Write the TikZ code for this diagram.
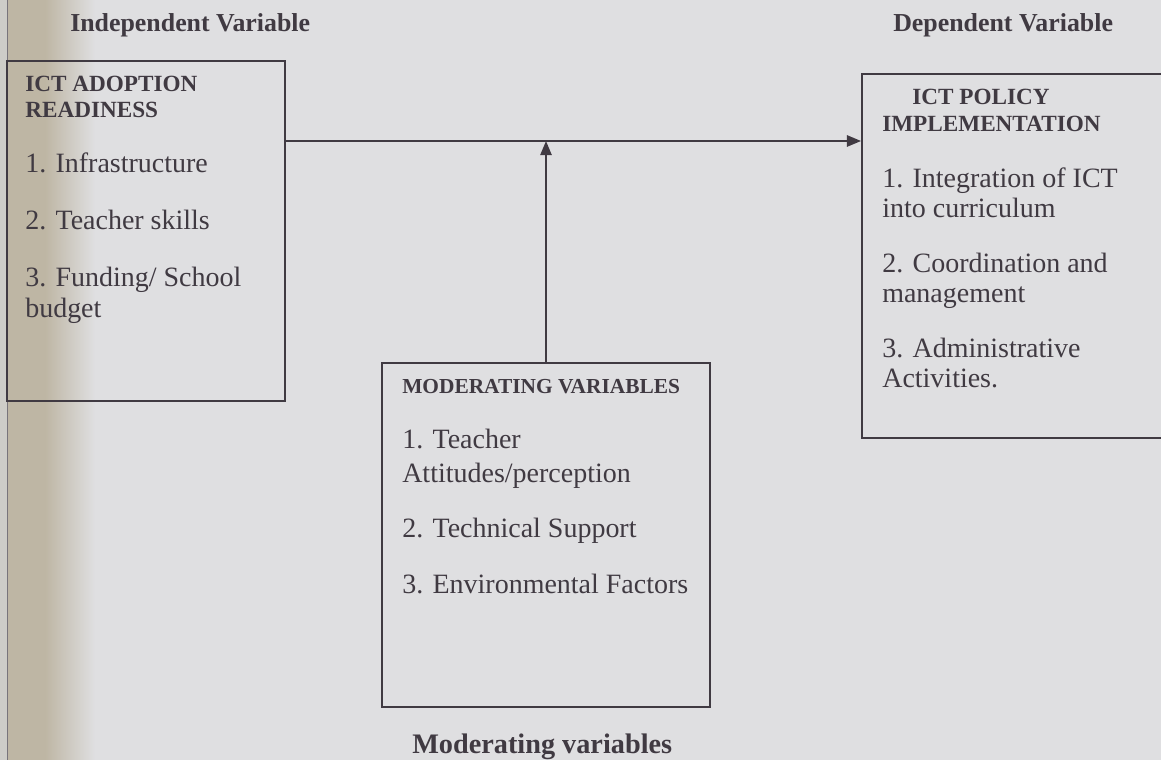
\documentclass[tikz,border=0pt]{standalone}
\usepackage{fontspec}
\setmainfont{Liberation Serif}
\usetikzlibrary{arrows.meta,positioning}

\definecolor{paper}{RGB}{223,223,225}
\definecolor{fold}{RGB}{190,182,164}
\definecolor{pageedge}{RGB}{206,205,200}
\definecolor{ink}{RGB}{64,58,66}

\begin{document}
\begin{tikzpicture}[x=0.025cm, y=-0.025cm,
    varbox/.style={draw=ink, line width=1.3pt, inner sep=0pt},
    boxhead/.style={anchor=base west, inner sep=0pt, text=ink, font=\bfseries\fontsize{16.5}{18}\selectfont},
    boxitem/.style={anchor=base west, inner sep=0pt, text=ink, font=\fontsize{19.9}{22}\selectfont},
    vartitle/.style={anchor=base west, inner sep=0pt, text=ink, font=\bfseries\fontsize{18.4}{20}\selectfont},
    link/.style={draw=ink, line width=1.3pt, -{Triangle[length=10pt, width=8pt]}}]

    % Page (photo of a printed page, fold shadow on the left)
    \useasboundingbox (0,0) rectangle (1161,760);
    \clip (0,0) rectangle (1161,760);
    \fill[paper] (0,0) rectangle (1161,760);
    \fill[pageedge] (0,0) rectangle (7,760);
    \fill[fold] (7,0) rectangle (45,760);
    \shade[left color=fold, right color=paper] (45,0) rectangle (95,760);
    \draw[ink!70, line width=0.6pt] (7,0) -- (7,760);

    % Column titles
    \node[vartitle] (indep) at (70,32) {Independent Variable};
    \node[vartitle] (dep) at (893,32) {Dependent Variable};

    % Boxes
    \node[varbox, minimum width=6.95cm, minimum height=8.5cm] (adoption) at (146,231) {};
    \node[varbox, minimum width=7.7cm, minimum height=9.1cm] (policy) at (1016,256) {};
    \node[varbox, minimum width=8.2cm, minimum height=8.6cm] (moderating) at (546,535) {};

    % Independent variable
    \foreach \txt/\yy [count=\i] in {ICT ADOPTION/92, READINESS/118} {
        \node[boxhead] (adoption-head-\i) at (25,\yy) {\txt};
    }
    \foreach \txt/\yy [count=\i] in {1. Infrastructure/173, 2. Teacher skills/230, {3. Funding/ School}/287, budget/318} {
        \node[boxitem] (adoption-item-\i) at (25,\yy) {\txt};
    }

    % Dependent variable
    \node[boxhead] (policy-head-1) at (912,105) {ICT POLICY};
    \node[boxhead] (policy-head-2) at (882,132) {IMPLEMENTATION};
    \foreach \txt/\yy [count=\i] in {1. Integration of ICT/188, into curriculum/218, 2. Coordination and/273, management/303, 3. Administrative/357, Activities./387} {
        \node[boxitem] (policy-item-\i) at (882,\yy) {\txt};
    }

    % Moderating variables
    \node[boxhead, font=\bfseries\fontsize{15.2}{17}\selectfont] (moderating-head) at (402,393) {MODERATING VARIABLES};
    \foreach \txt/\yy [count=\i] in {1. Teacher/448, {Attitudes/perception}/482, 2. Technical Support/537, 3. Environmental Factors/593} {
        \node[boxitem] (moderating-item-\i) at (402,\yy) {\txt};
    }
    \node[vartitle, font=\bfseries\fontsize{20.1}{22}\selectfont] (modcaption) at (412,753) {Moderating variables};

    % Connectors
    \coordinate (linelevel) at (0,141);
    \draw[link] (adoption.east |- linelevel) -- (policy.west |- linelevel);
    \draw[link] (moderating.north) -- (moderating.north |- linelevel);

\end{tikzpicture}
\end{document}
